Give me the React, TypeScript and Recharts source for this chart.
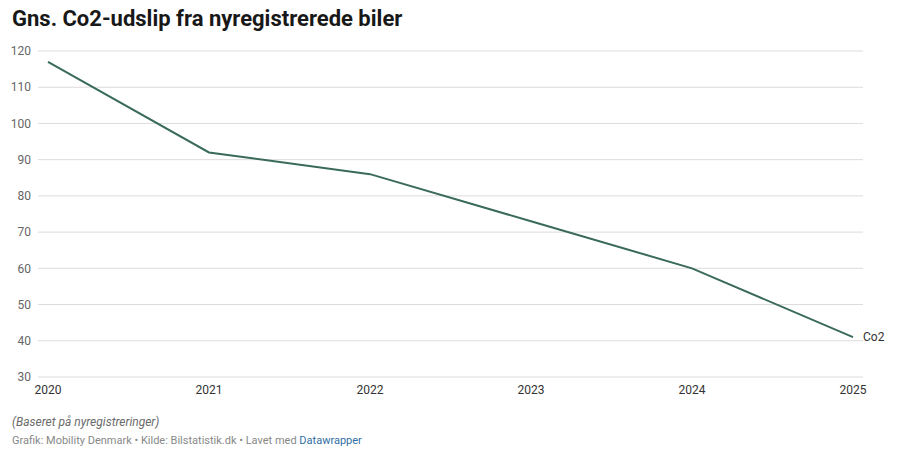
import * as React from "react";
import {
  LineChart,
  Line,
  XAxis,
  YAxis,
  CartesianGrid,
  LabelList,
} from "recharts";

const years = ["2020", "2021", "2022", "2023", "2024", "2025"];
const co2 = [117, 92, 86, 73, 60, 41];
const yTicks = [30, 40, 50, 60, 70, 80, 90, 100, 110, 120];

const data = years.map((year, i) => ({ year, co2: co2[i] }));

const FONT = "Roboto, 'Noto Sans', sans-serif";

const EndLabel = (props: any) => {
  const { x, y, index } = props;
  if (index !== data.length - 1) return null;
  return (
    <text
      x={x + 10}
      y={y}
      dy="0.355em"
      fontSize={12}
      fill="#333"
      fontFamily={FONT}
    >
      Co2
    </text>
  );
};

export default function App() {
  return (
    <div
      style={{
        position: "absolute",
        left: 0,
        top: 0,
        width: 904,
        height: 464,
        background: "#fff",
        fontFamily: FONT,
      }}
    >
      <div
        style={{
          position: "absolute",
          left: 12,
          top: 6,
          fontSize: 22,
          fontWeight: 700,
          color: "#181818",
          whiteSpace: "nowrap",
        }}
      >
        Gns. Co2-udslip fra nyregistrerede biler
      </div>

      <div style={{ position: "absolute", left: 0, top: 0 }}>
        <LineChart
          width={904}
          height={400}
          data={data}
          margin={{ top: 51, right: 41, left: 0, bottom: 3 }}
        >
          <CartesianGrid vertical={false} stroke="#dcdcdc" />
          <XAxis
            dataKey="year"
            axisLine={false}
            tickLine={false}
            tickSize={0}
            tickMargin={8}
            height={20}
            padding={{ left: 10, right: 10 }}
            interval={0}
            tick={{ fontSize: 12, fill: "#333", fontFamily: FONT }}
          />
          <YAxis
            domain={[30, 120]}
            ticks={yTicks}
            axisLine={false}
            tickLine={false}
            tickSize={0}
            tickMargin={7}
            width={38}
            interval={0}
            tick={{ fontSize: 12, fill: "#666", fontFamily: FONT }}
          />
          <Line
            type="linear"
            dataKey="co2"
            stroke="#3a6b58"
            strokeWidth={2}
            dot={false}
            isAnimationActive={false}
          >
            <LabelList dataKey="co2" content={EndLabel} />
          </Line>
        </LineChart>
      </div>

      <div
        style={{
          position: "absolute",
          left: 12,
          top: 415,
          fontSize: 12,
          fontStyle: "italic",
          color: "#6b6b6b",
          whiteSpace: "nowrap",
        }}
      >
        (Baseret på nyregistreringer)
      </div>
      <div
        style={{
          position: "absolute",
          left: 12,
          top: 434,
          fontSize: 11,
          color: "#888",
          whiteSpace: "nowrap",
        }}
      >
        Grafik: Mobility Denmark • Kilde: Bilstatistik.dk • Lavet med{" "}
        <span style={{ color: "#2f6ea5" }}>Datawrapper</span>
      </div>
    </div>
  );
}
